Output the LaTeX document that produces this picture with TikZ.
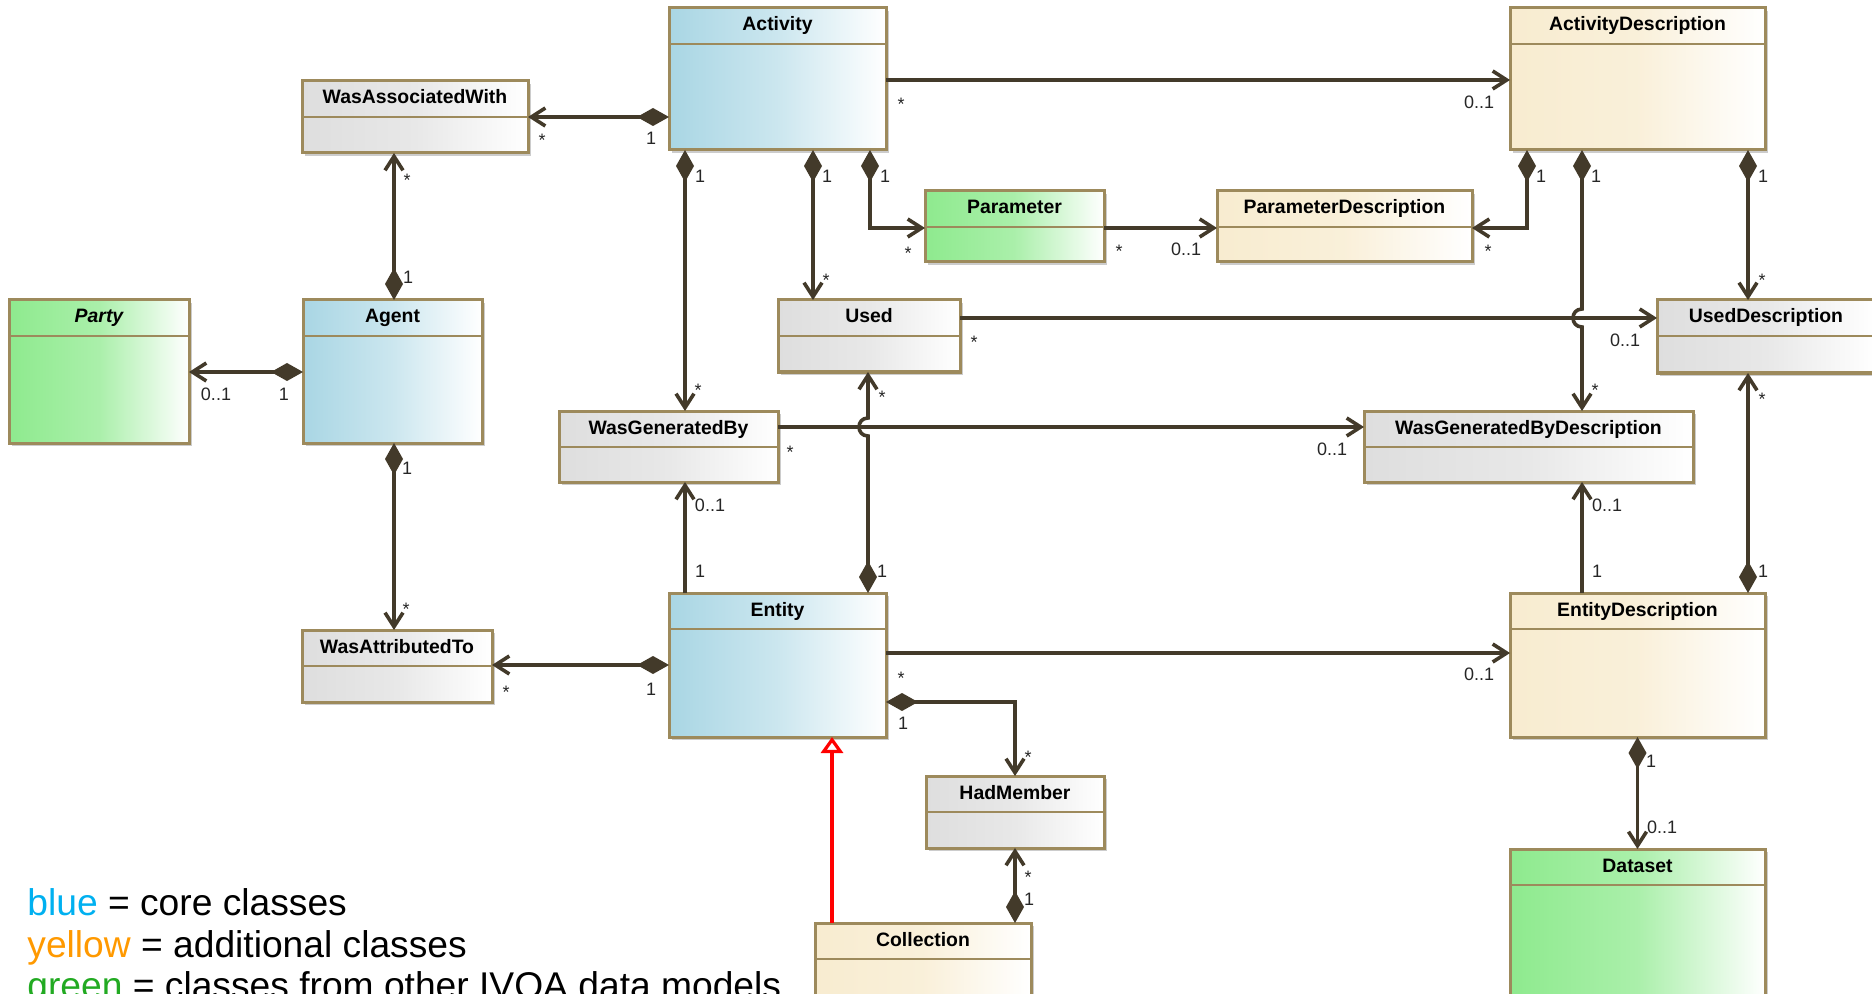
\documentclass[tikz,border=0pt]{standalone}
\usepackage{fontspec}
\setmainfont{Liberation Sans}
\usetikzlibrary{arrows.meta,shadows,calc}

\definecolor{clsborder}{HTML}{9D8A5C}
\definecolor{wire}{HTML}{433A2A}
\definecolor{coreblue}{HTML}{A9D6E4}
\definecolor{addyellow}{HTML}{F8ECD0}
\definecolor{extgreen}{HTML}{8EEA8E}
\definecolor{assocgray}{HTML}{DEDEDE}
\definecolor{legblue}{HTML}{00B0F0}
\definecolor{legyellow}{HTML}{FF9900}
\definecolor{leggreen}{HTML}{22AA22}

\tikzset{
  classbox/.style={rectangle, draw=clsborder, line width=1.5pt, inner sep=0pt, outer sep=0pt,
    drop shadow={shadow xshift=1.3pt, shadow yshift=-1.3pt, fill=black!40, opacity=0.5}},
  core/.style={left color=coreblue, right color=white, middle color=coreblue!60!white},
  addl/.style={left color=addyellow, right color=white, middle color=addyellow!80!white},
  ext/.style={left color=extgreen, right color=white, middle color=extgreen!75!white},
  assocc/.style={left color=assocgray, right color=white, middle color=assocgray!70!white},
  headrule/.style={draw=clsborder, line width=1.1pt},
  classtitle/.style={font=\bfseries\fontsize{9.7}{11}\selectfont, inner sep=0pt},
  mult/.style={font=\fontsize{9}{10}\selectfont, inner sep=0pt, text=black!85},
  nav/.style={draw=wire, line width=1.8pt, -{Straight Barb[length=7pt,width=9pt]}},
  comp/.style={draw=wire, line width=1.8pt,
    {Diamond[length=16pt,width=9pt]}-{Straight Barb[length=7pt,width=9pt]}},
  gen/.style={draw=red, line width=1.6pt, -{Triangle[open,length=8pt,width=11pt]}},
  legend/.style={font=\fontsize{18.6}{22}\selectfont, inner sep=0pt},
}

% a UML class: name, fill style, left, top, right, bottom (pixel units), title
\newcommand\umlclass[7]{%
  \pgfmathsetmacro\clsw{(#5-#3)*0.5}%
  \pgfmathsetmacro\clsh{(#6-#4)*0.5}%
  \node[classbox,#2,minimum width=\clsw pt,minimum height=\clsh pt,anchor=north west] (#1) at (#3,#4) {};
  \draw[headrule] ([yshift=-18pt]#1.north west) -- ([yshift=-18pt]#1.north east);
  \node[classtitle,anchor=base] (#1-title) at ([yshift=-11.5pt]#1.north) {#7};
}
% multiplicity label centred on its ink
\newcommand\mult[4]{\node[mult] (#1) at (#2,#3) {#4};}
\newcommand\mstar[3]{\node[mult] (#1) at (#2,#3+4) {*};}

\begin{document}
\begin{tikzpicture}[x=0.5pt,y=-0.5pt]
\useasboundingbox (0,0) rectangle (1872,994);
\clip (0,0) rectangle (1872,994);

% classes
\umlclass{act}{core}{669}{8}{886}{150}{Activity}
\umlclass{actd}{addl}{1510}{8}{1765}{150}{ActivityDescription}
\umlclass{waw}{assocc}{302}{81}{528}{153}{WasAssociatedWith}
\umlclass{par}{ext}{925}{191}{1104}{262}{Parameter}
\umlclass{pard}{addl}{1217}{191}{1472}{262}{ParameterDescription}
\umlclass{party}{ext}{9}{300}{189}{443}{\itshape Party}
\umlclass{agent}{core}{303}{300}{482}{443}{Agent}
\umlclass{used}{assocc}{778}{300}{960}{372}{Used}
\umlclass{usedd}{assocc}{1657}{300}{1875}{373}{UsedDescription}
\umlclass{wgb}{assocc}{559}{411}{778}{482}{WasGeneratedBy}
\umlclass{wgbd}{assocc}{1364}{411}{1693}{482}{WasGeneratedByDescription}
\umlclass{wat}{assocc}{302}{630}{492}{702}{WasAttributedTo}
\umlclass{ent}{core}{669}{593}{886}{737}{Entity}
\umlclass{entd}{addl}{1510}{593}{1765}{737}{EntityDescription}
\umlclass{hadm}{assocc}{926}{776}{1104}{848}{HadMember}
\umlclass{coll}{addl}{815}{923}{1031}{1000}{Collection}
\umlclass{dset}{ext}{1510}{849}{1765}{1000}{Dataset}

% connector lanes
\coordinate (xWgb) at (685,0);
\coordinate (xUsedA) at (813,0);
\coordinate (xPar) at (870,0);
\coordinate (xUsedE) at (868,0);
\coordinate (xPard) at (1527,0);
\coordinate (xWgbd) at (1582,0);
\coordinate (xUsedd) at (1748,0);
\coordinate (xAgent) at (394,0);
\coordinate (xHad) at (1015,0);
\coordinate (xGen) at (832,0);
\coordinate (yActd) at (0,80);
\coordinate (yWaw) at (0,117);
\coordinate (yPar) at (0,228);
\coordinate (yUsed) at (0,318);
\coordinate (yParty) at (0,372);
\coordinate (yWgb) at (0,427);
\coordinate (yEntd) at (0,653);
\coordinate (yWat) at (0,665);
\coordinate (yHad) at (0,702);

% associations from Activity
\draw[comp] (act.west |- yWaw) -- (waw.east |- yWaw);
\draw[nav] (act.east |- yActd) -- (actd.west |- yActd);
\draw[comp] (act.south -| xWgb) -- (wgb.north -| xWgb);
\draw[comp] (act.south -| xUsedA) -- (used.north -| xUsedA);
\draw[comp] (act.south -| xPar) |- (par.west |- yPar);
\draw[nav] (par.east |- yPar) -- (pard.west |- yPar);

% associations from ActivityDescription
\draw[comp] (actd.south -| xPard) |- (pard.east |- yPar);
\draw[comp] (actd.south -| xWgbd)
  -- ($(xWgbd |- yUsed)+(0,-9)$)
  .. controls ($(xWgbd |- yUsed)+(-12,-9)$) and ($(xWgbd |- yUsed)+(-12,9)$) .. ($(xWgbd |- yUsed)+(0,9)$)
  -- (wgbd.north -| xWgbd);
\draw[comp] (actd.south -| xUsedd) -- (usedd.north -| xUsedd);

% horizontal links to descriptions
\draw[nav] (used.east |- yUsed) -- (usedd.west |- yUsed);
\draw[nav] (wgb.east |- yWgb) -- (wgbd.west |- yWgb);
\draw[nav] (ent.east |- yEntd) -- (entd.west |- yEntd);

% associations from Entity
\draw[nav] (ent.north -| xWgb) -- (wgb.south -| xWgb);
\draw[comp] (ent.north -| xUsedE)
  -- ($(xUsedE |- yWgb)+(0,9)$)
  .. controls ($(xUsedE |- yWgb)+(-12,9)$) and ($(xUsedE |- yWgb)+(-12,-9)$) .. ($(xUsedE |- yWgb)+(0,-9)$)
  -- (used.south -| xUsedE);
\draw[comp] (ent.west |- yWat) -- (wat.east |- yWat);
\draw[comp] (ent.east |- yHad) -| (hadm.north -| xHad);

% associations from EntityDescription
\draw[nav] (entd.north -| xWgbd) -- (wgbd.south -| xWgbd);
\draw[comp] (entd.north -| xUsedd) -- (usedd.south -| xUsedd);
\draw[comp] (entd.south) -- (dset.north);

% associations from Agent
\draw[comp] (agent.north -| xAgent) -- (waw.south -| xAgent);
\draw[comp] (agent.west |- yParty) -- (party.east |- yParty);
\draw[comp] (agent.south -| xAgent) -- (wat.north -| xAgent);

% Collection
\draw[comp] (coll.north -| xHad) -- (hadm.south -| xHad);
\draw[gen] (coll.north -| xGen) -- (ent.south -| xGen);

% multiplicities
\mstar{m01}{542}{136}   \mult{m02}{651}{138}{1}
\mstar{m03}{901}{100}   \mult{m04}{1479}{102}{0..1}
\mult{m05}{700}{176}{1} \mstar{m06}{698}{386}
\mult{m07}{827}{176}{1} \mstar{m08}{826}{276}
\mult{m09}{885}{176}{1} \mstar{m10}{908}{249}
\mstar{m11}{1119}{247}  \mult{m12}{1186}{249}{0..1}
\mult{m13}{1541}{176}{1} \mstar{m14}{1488}{247}
\mult{m15}{1596}{176}{1} \mstar{m16}{1595}{386}
\mult{m17}{1763}{176}{1} \mstar{m18}{1762}{276}
\mstar{m19}{974}{338}   \mult{m20}{1625}{340}{0..1}
\mstar{m21}{790}{448}   \mult{m22}{1332}{449}{0..1}
\mult{m23}{710}{505}{0..1} \mult{m24}{700}{571}{1}
\mult{m25}{882}{571}{1} \mstar{m26}{882}{393}
\mult{m27}{1607}{505}{0..1} \mult{m28}{1597}{571}{1}
\mult{m29}{1763}{571}{1} \mstar{m30}{1762}{395}
\mstar{m31}{901}{674}   \mult{m32}{1479}{674}{0..1}
\mult{m33}{408}{277}{1} \mstar{m34}{407}{176}
\mult{m35}{216}{394}{0..1} \mult{m36}{284}{394}{1}
\mult{m37}{407}{468}{1} \mstar{m38}{406}{605}
\mstar{m39}{506}{688}   \mult{m40}{651}{689}{1}
\mult{m41}{903}{723}{1} \mstar{m42}{1028}{753}
\mstar{m43}{1028}{873}  \mult{m44}{1029}{899}{1}
\mult{m45}{1651}{761}{1} \mult{m46}{1662}{827}{0..1}

% colour key
\node[legend,anchor=base west] (key1) at (27,915) {\textcolor{legblue}{blue} = core classes};
\node[legend,anchor=base west] (key2) at (27,957) {\textcolor{legyellow}{yellow} = additional classes};
\node[legend,anchor=base west] (key3) at (27,998) {\textcolor{leggreen}{green} = classes from other IVOA data models};
\end{tikzpicture}
\end{document}
